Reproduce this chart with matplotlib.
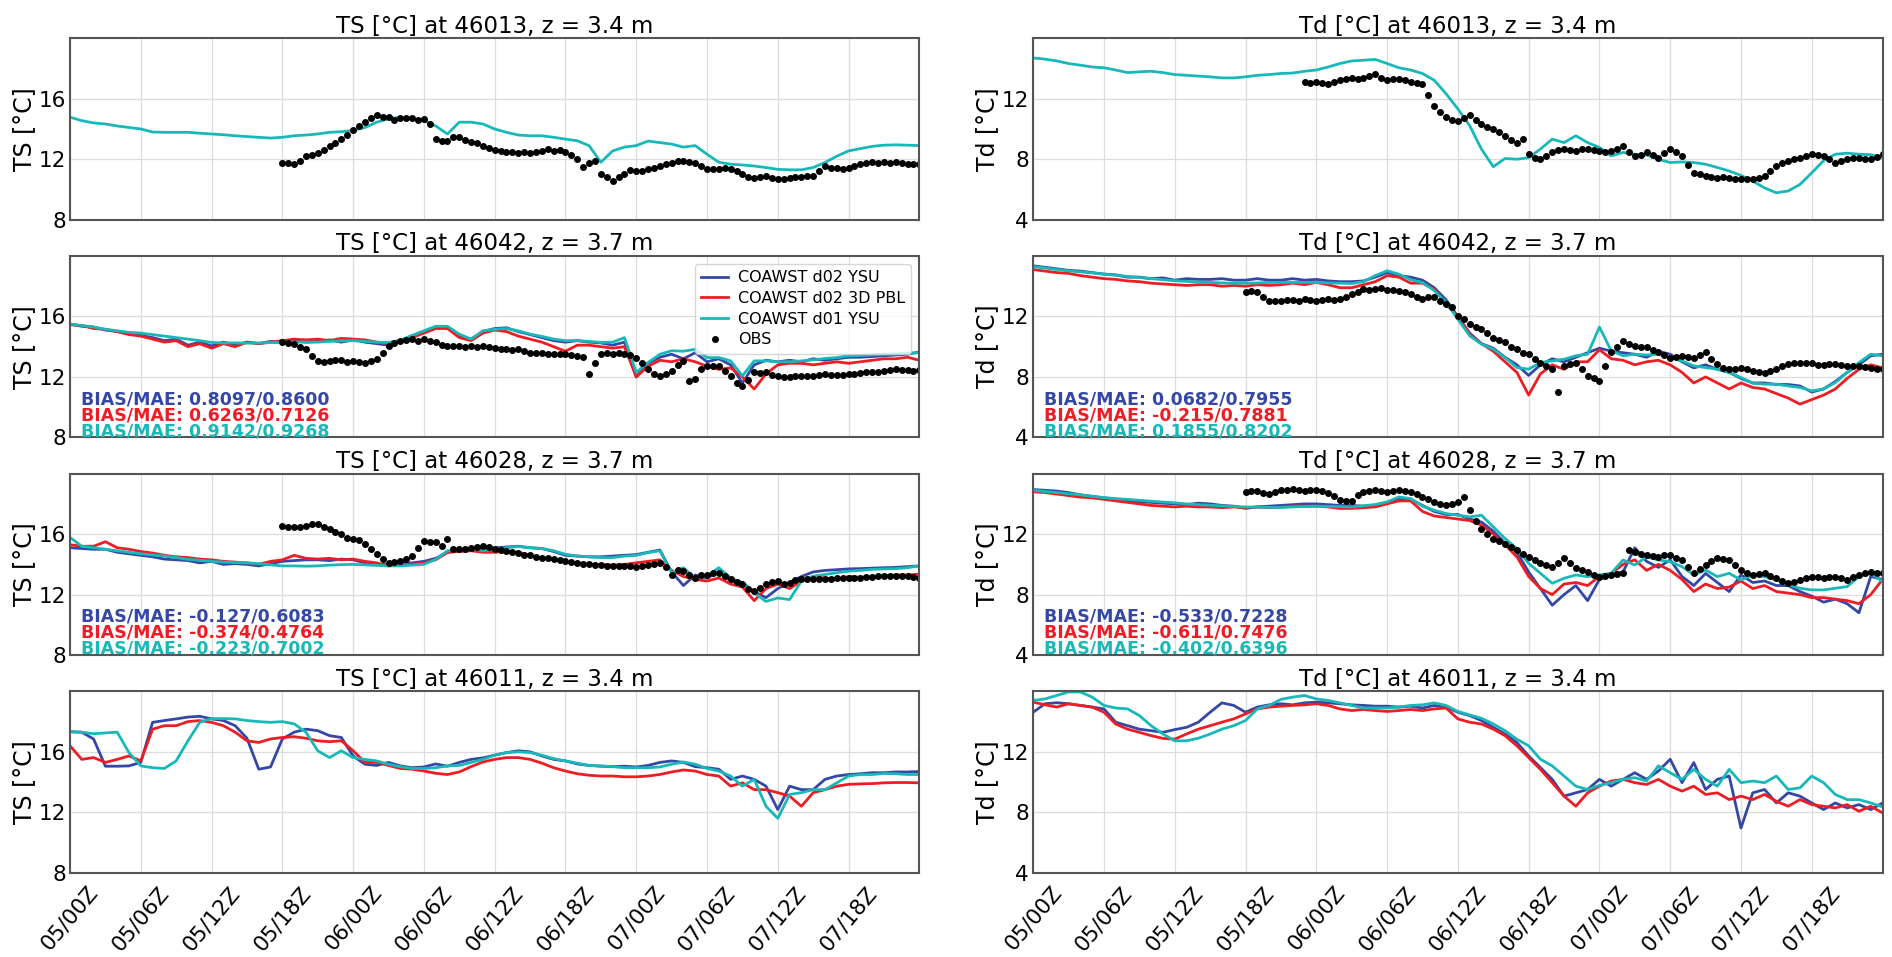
import numpy as np
import pandas as pd
import matplotlib
matplotlib.use('Agg')
import matplotlib.pyplot as plt
import matplotlib.dates as mdates

# start of the run (05/00Z)
t0 = pd.Timestamp('2021-01-05 00:00')

# ---- model output, hourly from 05/00Z ----
# TS 46013 (only d01 covers this buoy)
ts_46013_d01 = [14.78, 14.55, 14.40, 14.33, 14.20, 14.10, 14.00, 13.80, 13.78, 13.78, 13.78, 13.72,
                13.67, 13.62, 13.55, 13.50, 13.45, 13.40, 13.45, 13.55, 13.60, 13.67, 13.78, 13.82,
                13.90, 14.10, 14.45, 14.67, 14.78, 14.67, 14.55, 14.20, 13.67, 14.45, 14.45, 14.33,
                14.00, 13.78, 13.60, 13.55, 13.55, 13.45, 13.33, 13.22, 12.90, 11.80, 12.55, 12.80,
                12.90, 13.20, 13.10, 13.00, 12.80, 12.90, 12.33, 11.80, 11.67, 11.62, 11.55, 11.45,
                11.33, 11.30, 11.30, 11.45, 11.78, 12.20, 12.55, 12.70, 12.85, 12.93, 12.95, 12.93,
                12.90]

# TS 46042
ts_46042_ysu = [15.50, 15.35, 15.30, 15.10, 15.00, 14.85, 14.75, 14.60, 14.40, 14.50, 14.10, 14.30,
                14.05, 14.30, 14.10, 14.30, 14.20, 14.35, 14.25, 14.40, 14.30, 14.35, 14.45, 14.30,
                14.45, 14.30, 14.20, 14.10, 14.40, 14.70, 15.00, 15.30, 15.30, 14.70, 14.50, 15.00,
                15.20, 15.25, 15.00, 14.80, 14.60, 14.40, 14.30, 14.40, 14.30, 14.25, 14.10, 14.30,
                12.00, 12.90, 13.30, 13.50, 13.20, 13.60, 13.00, 13.20, 12.80, 11.60, 12.80, 13.10,
                13.00, 13.10, 13.00, 13.20, 13.10, 13.20, 13.30, 13.30, 13.35, 13.40, 13.45, 13.50,
                13.65]
ts_46042_pbl = [15.45, 15.40, 15.20, 15.15, 15.00, 14.80, 14.70, 14.50, 14.30, 14.40, 14.00, 14.20,
                13.90, 14.20, 14.00, 14.30, 14.20, 14.30, 14.40, 14.50, 14.45, 14.50, 14.40, 14.55,
                14.50, 14.45, 14.30, 14.20, 14.30, 14.60, 14.90, 15.20, 15.20, 14.60, 14.40, 14.90,
                15.10, 15.00, 14.70, 14.50, 14.30, 14.00, 13.70, 14.10, 14.10, 14.00, 13.90, 14.00,
                12.00, 12.70, 13.10, 13.00, 13.20, 13.00, 12.70, 12.50, 12.60, 12.00, 11.20, 12.20,
                12.80, 12.90, 12.90, 12.80, 12.90, 13.00, 12.90, 13.00, 13.10, 13.20, 13.20, 13.30,
                13.10]
ts_46042_d01 = [15.50, 15.40, 15.30, 15.15, 15.05, 14.95, 14.90, 14.80, 14.70, 14.60, 14.50, 14.40,
                14.28, 14.25, 14.25, 14.23, 14.25, 14.27, 14.28, 14.30, 14.30, 14.30, 14.35, 14.38,
                14.40, 14.35, 14.30, 14.28, 14.43, 14.75, 15.05, 15.35, 15.35, 14.83, 14.50, 15.05,
                15.15, 15.20, 15.05, 14.83, 14.68, 14.50, 14.40, 14.40, 14.35, 14.28, 14.30, 14.60,
                12.30, 12.95, 13.50, 13.73, 13.70, 13.83, 13.28, 13.28, 13.06, 12.07, 13.06, 13.06,
                13.00, 13.00, 13.06, 13.13, 13.22, 13.28, 13.40, 13.42, 13.46, 13.50, 13.53, 13.57,
                13.60]

# TS 46028
ts_46028_ysu = [15.10, 15.05, 15.00, 15.00, 14.80, 14.70, 14.60, 14.50, 14.35, 14.30, 14.25, 14.10,
                14.20, 14.00, 14.05, 14.00, 13.90, 14.05, 14.20, 14.25, 14.30, 14.30, 14.25, 14.35,
                14.30, 14.10, 14.00, 14.00, 14.05, 14.10, 14.20, 14.40, 14.80, 14.90, 15.00, 15.05,
                15.10, 15.15, 15.20, 15.10, 15.05, 14.85, 14.60, 14.55, 14.50, 14.50, 14.55, 14.60,
                14.65, 14.80, 14.95, 13.50, 12.60, 13.30, 13.10, 13.50, 12.90, 12.80, 12.20, 11.80,
                12.40, 12.80, 13.20, 13.50, 13.60, 13.65, 13.70, 13.72, 13.75, 13.78, 13.80, 13.85,
                13.90]
ts_46028_pbl = [15.30, 15.20, 15.20, 15.50, 15.10, 15.00, 14.85, 14.75, 14.60, 14.50, 14.45, 14.35,
                14.30, 14.20, 14.15, 14.10, 14.00, 14.20, 14.30, 14.60, 14.40, 14.35, 14.40, 14.30,
                14.35, 14.20, 14.10, 13.90, 14.00, 14.00, 14.10, 14.30, 14.80, 14.85, 14.90, 14.80,
                14.80, 14.85, 14.80, 14.60, 14.40, 14.30, 14.20, 14.10, 14.00, 14.00, 13.95, 14.00,
                14.10, 14.20, 14.30, 13.60, 13.20, 13.00, 12.90, 13.10, 12.70, 12.50, 11.60, 12.40,
                12.70, 12.40, 12.90, 13.20, 13.10, 13.00, 13.20, 13.15, 13.20, 13.25, 13.30, 13.30,
                13.35]
ts_46028_d01 = [15.78, 15.20, 15.10, 15.00, 14.90, 14.80, 14.70, 14.62, 14.55, 14.45, 14.33, 14.27,
                14.20, 14.15, 14.12, 14.10, 14.05, 13.97, 13.90, 13.90, 13.88, 13.90, 13.95, 13.98,
                14.00, 13.97, 13.93, 13.90, 13.90, 13.95, 14.00, 14.33, 14.90, 15.00, 15.05, 14.90,
                15.00, 15.10, 15.18, 15.10, 15.05, 14.90, 14.67, 14.55, 14.50, 14.45, 14.45, 14.55,
                14.60, 14.78, 14.90, 13.45, 13.78, 13.10, 13.22, 13.78, 13.10, 12.78, 12.10, 11.55,
                11.78, 11.67, 12.90, 13.22, 13.33, 13.45, 13.55, 13.60, 13.67, 13.70, 13.72, 13.78,
                13.90]

# TS 46011
ts_46011_ysu = [17.33, 17.30, 16.85, 15.05, 15.05, 15.07, 15.30, 17.95, 18.07, 18.18, 18.30, 18.35,
                18.18, 18.07, 17.73, 16.90, 14.85, 15.00, 16.85, 17.30, 17.50, 17.40, 17.07, 16.95,
                15.73, 15.18, 15.10, 15.30, 15.07, 14.95, 15.00, 15.20, 15.05, 15.30, 15.50, 15.60,
                15.78, 15.95, 16.07, 16.00, 15.73, 15.50, 15.40, 15.20, 15.10, 15.05, 15.02, 15.05,
                15.00, 15.10, 15.30, 15.40, 15.30, 15.02, 14.95, 14.85, 14.18, 14.40, 14.18, 13.73,
                12.18, 13.73, 13.50, 13.50, 14.18, 14.40, 14.50, 14.55, 14.62, 14.62, 14.67, 14.67,
                14.70]
ts_46011_pbl = [16.40, 15.50, 15.62, 15.30, 15.50, 15.73, 15.40, 17.50, 17.73, 17.73, 18.00, 18.07,
                17.95, 17.73, 17.30, 16.73, 16.62, 16.85, 16.95, 17.00, 16.90, 16.73, 16.67, 16.73,
                16.07, 15.30, 15.30, 15.10, 14.90, 14.85, 14.73, 14.58, 14.50, 14.67, 15.02, 15.33,
                15.50, 15.62, 15.62, 15.50, 15.25, 14.95, 14.73, 14.55, 14.45, 14.40, 14.40, 14.35,
                14.35, 14.40, 14.50, 14.67, 14.80, 14.73, 14.50, 14.40, 13.73, 13.95, 13.50, 13.50,
                13.30, 13.07, 12.40, 13.30, 13.50, 13.73, 13.85, 13.88, 13.90, 13.95, 13.97, 13.97,
                13.95]
ts_46011_d01 = [17.33, 17.30, 17.20, 17.25, 17.30, 15.95, 15.07, 14.95, 14.90, 15.40, 16.73, 17.95,
                18.20, 18.20, 18.18, 18.07, 18.00, 17.95, 18.00, 17.85, 17.30, 16.07, 15.62, 16.07,
                15.62, 15.50, 15.40, 15.18, 15.02, 14.90, 14.90, 14.95, 15.07, 15.10, 15.30, 15.50,
                15.78, 15.95, 16.00, 15.95, 15.78, 15.55, 15.40, 15.25, 15.10, 15.07, 15.02, 14.95,
                14.95, 14.95, 15.00, 15.18, 15.33, 15.18, 14.90, 14.73, 14.40, 13.73, 14.18, 12.40,
                11.60, 13.18, 13.30, 13.50, 13.50, 13.95, 14.40, 14.50, 14.50, 14.57, 14.55, 14.50,
                14.50]

# Td 46013
td_46013_d01 = [14.70, 14.62, 14.50, 14.33, 14.22, 14.10, 14.05, 13.90, 13.73, 13.78, 13.82, 13.73,
                13.60, 13.55, 13.50, 13.45, 13.38, 13.38, 13.45, 13.55, 13.60, 13.67, 13.70, 13.82,
                13.90, 14.10, 14.33, 14.50, 14.55, 14.60, 14.33, 14.05, 13.90, 13.67, 13.22, 12.33,
                11.33, 10.22, 8.67, 7.50, 8.05, 8.00, 8.10, 8.67, 9.33, 9.10, 9.55, 9.10,
                8.78, 8.22, 8.45, 8.33, 8.27, 8.00, 7.78, 7.82, 7.78, 7.67, 7.45, 7.22,
                6.93, 6.55, 6.10, 5.78, 5.90, 6.33, 7.10, 7.90, 8.33, 8.40, 8.33, 8.30,
                8.10]

# Td 46042
td_46042_ysu = [15.35, 15.25, 15.15, 15.05, 15.00, 14.90, 14.80, 14.75, 14.60, 14.60, 14.50, 14.55,
                14.40, 14.50, 14.45, 14.45, 14.50, 14.40, 14.40, 14.50, 14.40, 14.40, 14.50, 14.40,
                14.45, 14.35, 14.30, 14.30, 14.35, 14.60, 14.90, 14.70, 14.60, 14.40, 13.90, 13.10,
                12.00, 10.90, 10.20, 9.90, 9.30, 8.80, 8.10, 8.80, 9.20, 9.00, 9.30, 9.60,
                9.90, 9.70, 9.60, 9.50, 9.30, 9.70, 9.50, 9.00, 8.60, 8.80, 8.50, 8.30,
                7.90, 7.60, 7.60, 7.50, 7.50, 7.40, 7.00, 7.20, 7.70, 8.30, 8.80, 9.40,
                9.50]
td_46042_pbl = [15.10, 15.00, 14.90, 14.85, 14.70, 14.60, 14.50, 14.45, 14.35, 14.30, 14.20, 14.15,
                14.10, 14.05, 14.10, 14.10, 14.00, 14.05, 14.00, 14.10, 14.05, 14.10, 14.20, 14.10,
                14.25, 14.10, 13.90, 13.90, 14.10, 14.30, 14.70, 14.60, 14.20, 14.20, 13.80, 12.80,
                12.00, 10.80, 10.20, 9.70, 9.00, 8.30, 6.80, 8.20, 8.80, 8.50, 9.00, 9.00,
                9.80, 9.20, 9.10, 8.80, 9.00, 9.10, 8.80, 8.30, 7.60, 8.00, 7.60, 7.20,
                7.60, 7.30, 7.20, 6.90, 6.60, 6.20, 6.50, 6.80, 7.20, 7.90, 8.50, 8.80,
                8.60]
td_46042_d01 = [15.30, 15.20, 15.10, 15.02, 14.95, 14.88, 14.80, 14.72, 14.65, 14.58, 14.50, 14.43,
                14.36, 14.32, 14.28, 14.25, 14.22, 14.20, 14.20, 14.22, 14.25, 14.25, 14.25, 14.25,
                14.25, 14.22, 14.20, 14.18, 14.30, 14.70, 15.02, 14.80, 14.43, 14.25, 13.70, 12.93,
                11.82, 10.72, 10.17, 9.84, 9.28, 8.62, 8.51, 8.95, 9.06, 9.17, 9.40, 9.50,
                11.30, 9.73, 9.40, 9.50, 9.45, 9.50, 9.28, 9.06, 8.73, 8.62, 8.51, 8.29,
                7.96, 7.58, 7.52, 7.52, 7.40, 7.30, 7.08, 7.20, 7.63, 8.29, 8.95, 9.50,
                9.40]

# Td 46028
td_46028_ysu = [14.95, 14.90, 14.85, 14.75, 14.60, 14.50, 14.40, 14.30, 14.20, 14.15, 14.10, 14.05,
                14.00, 13.95, 14.05, 14.00, 13.90, 13.85, 13.70, 13.80, 13.85, 13.90, 13.95, 14.00,
                14.00, 13.95, 13.90, 13.90, 13.85, 13.90, 14.10, 14.30, 14.30, 13.90, 13.50, 13.30,
                13.30, 13.00, 12.80, 12.20, 11.40, 10.80, 9.50, 8.40, 7.30, 8.00, 8.60, 7.60,
                9.00, 9.30, 9.50, 11.10, 10.20, 9.80, 10.30, 9.20, 8.60, 9.40, 8.80, 8.20,
                9.30, 8.80, 8.90, 8.60, 8.60, 8.20, 7.90, 7.50, 7.70, 7.40, 6.80, 9.20,
                9.00]
td_46028_pbl = [14.80, 14.75, 14.65, 14.55, 14.45, 14.40, 14.30, 14.20, 14.10, 14.00, 13.90, 13.85,
                13.80, 13.85, 13.80, 13.80, 13.75, 13.80, 13.75, 13.80, 13.75, 13.80, 13.85, 13.85,
                13.85, 13.80, 13.70, 13.70, 13.75, 13.80, 14.00, 14.20, 14.20, 13.50, 13.20, 13.10,
                13.00, 12.90, 12.60, 12.00, 11.30, 10.50, 9.20, 8.40, 8.00, 8.70, 8.80, 8.60,
                9.20, 9.40, 10.00, 10.30, 9.60, 10.00, 9.60, 9.00, 8.20, 8.70, 8.40, 8.50,
                8.90, 8.40, 8.60, 8.20, 8.10, 8.00, 7.80, 7.80, 7.70, 7.60, 7.40, 8.00,
                9.00]
td_46028_d01 = [14.90, 14.82, 14.75, 14.68, 14.60, 14.50, 14.42, 14.35, 14.30, 14.24, 14.18, 14.12,
                14.07, 14.00, 13.95, 13.91, 13.87, 13.83, 13.80, 13.78, 13.77, 13.76, 13.80, 13.83,
                13.85, 13.83, 13.82, 13.80, 13.88, 13.96, 14.13, 14.46, 14.35, 13.85, 13.58, 13.36,
                13.25, 13.14, 13.25, 12.48, 11.71, 11.05, 10.07, 9.41, 8.75, 9.08, 9.30, 9.19,
                9.30, 9.41, 10.29, 9.96, 10.50, 10.29, 10.18, 9.85, 9.30, 9.63, 9.19, 9.41,
                8.97, 9.30, 9.19, 8.97, 8.64, 8.42, 8.31, 8.31, 8.42, 8.53, 9.19, 9.41,
                8.86]

# Td 46011
td_46011_ysu = [14.62, 15.18, 15.25, 15.18, 15.07, 14.96, 14.84, 13.96, 13.73, 13.50, 13.40, 13.29,
                13.47, 13.62, 13.96, 14.62, 15.24, 15.07, 14.62, 14.96, 15.11, 15.18, 15.11, 15.24,
                15.29, 15.24, 15.18, 15.11, 15.07, 15.02, 15.02, 14.96, 15.02, 14.90, 15.07, 14.96,
                14.62, 14.40, 14.07, 13.62, 13.18, 12.62, 11.73, 10.96, 10.18, 9.07, 9.29, 9.51,
                10.18, 9.73, 10.18, 10.62, 10.18, 10.73, 11.51, 9.96, 11.29, 9.51, 10.18, 10.40,
                6.96, 9.29, 9.51, 8.62, 9.29, 9.07, 8.62, 8.18, 8.62, 8.29, 8.51, 8.18,
                8.62]
td_46011_pbl = [15.29, 15.11, 14.96, 15.18, 15.07, 14.96, 14.62, 13.84, 13.50, 13.29, 13.07, 12.89,
                12.84, 13.18, 13.50, 13.73, 13.96, 14.18, 14.51, 14.84, 14.96, 15.02, 15.07, 15.11,
                15.18, 15.07, 14.84, 14.73, 14.80, 14.73, 14.67, 14.73, 14.80, 14.73, 14.84, 14.90,
                14.18, 13.96, 13.84, 13.50, 13.07, 12.40, 11.62, 10.84, 9.96, 9.07, 8.40, 9.29,
                9.73, 10.07, 10.18, 9.96, 9.84, 10.18, 9.73, 9.40, 9.73, 9.18, 9.29, 8.84,
                9.07, 8.84, 9.18, 8.73, 8.40, 8.84, 8.51, 8.40, 8.29, 8.51, 8.07, 8.40,
                7.96]
td_46011_d01 = [15.40, 15.50, 15.73, 15.96, 15.96, 15.62, 15.07, 14.90, 14.84, 14.40, 13.73, 13.18,
                12.73, 12.73, 12.90, 13.18, 13.50, 13.73, 14.07, 14.84, 15.07, 15.47, 15.62, 15.73,
                15.50, 15.40, 15.24, 15.07, 14.90, 14.90, 14.90, 14.96, 15.07, 15.11, 15.24, 15.07,
                14.67, 14.44, 14.22, 13.84, 13.40, 12.84, 12.40, 11.51, 11.07, 10.40, 9.73, 9.51,
                9.78, 9.96, 10.18, 10.29, 10.07, 11.07, 10.62, 10.18, 10.84, 10.18, 9.73, 10.84,
                9.96, 10.07, 9.96, 10.40, 9.51, 9.62, 10.40, 9.96, 9.18, 8.84, 8.84, 8.62,
                8.36]

# ---- buoy observations, every 30 min (start hour after 05/00Z) ----
obs_ts_46013_start = 18
obs_ts_46013 = [11.75, 11.72, 11.67, 11.90, 12.20, 12.30, 12.40, 12.60, 12.90, 13.10, 13.33, 13.60,
                13.90, 14.20, 14.45, 14.75, 14.90, 14.80, 14.78, 14.60, 14.70, 14.75, 14.70, 14.60,
                14.67, 14.30, 13.33, 13.20, 13.22, 13.45, 13.50, 13.30, 13.15, 13.05, 12.90, 12.75,
                12.60, 12.55, 12.50, 12.45, 12.40, 12.45, 12.42, 12.50, 12.55, 12.70, 12.55, 12.60,
                12.45, 12.30, 12.00, 11.50, 11.78, 11.90, 11.00, 10.80, 10.55, 10.80, 11.00, 11.30,
                11.20, 11.25, 11.33, 11.45, 11.55, 11.70, 11.78, 11.85, 11.90, 11.80, 11.73, 11.55,
                11.38, 11.35, 11.33, 11.40, 11.35, 11.20, 11.00, 10.85, 10.78, 10.85, 10.90, 10.75,
                10.67, 10.72, 10.78, 10.85, 10.85, 10.90, 10.90, 11.20, 11.55, 11.40, 11.45, 11.35,
                11.45, 11.55, 11.67, 11.75, 11.82, 11.78, 11.80, 11.75, 11.80, 11.72, 11.67, 11.70,
                11.67]
obs_ts_46042_start = 18
obs_ts_46042 = [14.28, 14.25, 14.17, 14.00, 13.83, 13.40, 13.06, 13.00, 13.06, 13.10, 13.10, 13.00,
                13.06, 13.00, 12.95, 13.05, 13.17, 13.60, 14.05, 14.25, 14.40, 14.45, 14.50, 14.40,
                14.50, 14.35, 14.28, 14.10, 14.05, 14.05, 14.05, 14.00, 14.05, 14.00, 14.05, 13.95,
                13.90, 13.85, 13.83, 13.80, 13.83, 13.70, 13.60, 13.55, 13.55, 13.50, 13.50, 13.50,
                13.50, 13.45, 13.40, 13.30, 12.20, 12.90, 13.50, 13.55, 13.50, 13.55, 13.50, 13.45,
                13.28, 12.90, 12.50, 12.20, 12.07, 12.20, 12.40, 12.80, 13.06, 11.70, 11.85, 12.50,
                12.73, 12.75, 12.73, 12.40, 12.07, 11.60, 11.40, 11.80, 12.30, 12.25, 12.30, 12.15,
                12.07, 12.00, 12.00, 12.05, 12.07, 12.05, 12.07, 12.10, 12.18, 12.15, 12.12, 12.15,
                12.18, 12.20, 12.25, 12.30, 12.33, 12.35, 12.40, 12.45, 12.50, 12.45, 12.45, 12.42,
                12.45]
obs_ts_46028_start = 18
obs_ts_46028 = [16.55, 16.50, 16.45, 16.50, 16.55, 16.65, 16.67, 16.50, 16.33, 16.15, 16.00, 15.75,
                15.70, 15.60, 15.33, 15.00, 14.67, 14.35, 14.10, 14.15, 14.22, 14.35, 14.55, 15.10,
                15.55, 15.50, 15.45, 15.20, 15.67, 15.00, 15.00, 15.05, 15.10, 15.15, 15.22, 15.15,
                15.05, 14.95, 14.90, 14.80, 14.73, 14.65, 14.60, 14.50, 14.45, 14.40, 14.33, 14.28,
                14.22, 14.15, 14.10, 14.05, 14.00, 13.95, 13.93, 13.90, 13.90, 13.88, 13.90, 13.88,
                13.85, 13.90, 13.93, 14.00, 14.10, 13.80, 13.33, 13.60, 13.55, 13.30, 13.10, 13.30,
                13.33, 13.40, 13.45, 13.20, 13.00, 12.85, 12.67, 12.40, 12.22, 12.45, 12.67, 12.85,
                12.90, 12.70, 12.78, 12.95, 13.00, 13.00, 13.00, 13.05, 13.05, 13.05, 13.08, 13.10,
                13.10, 13.12, 13.10, 13.15, 13.17, 13.20, 13.22, 13.22, 13.22, 13.20, 13.20, 13.15,
                13.10]
obs_td_46013_start = 23
obs_td_46013 = [13.10, 13.05, 13.10, 13.05, 13.00, 13.10, 13.22, 13.30, 13.38, 13.30, 13.38, 13.50,
                13.67, 13.40, 13.22, 13.30, 13.33, 13.25, 13.10, 13.05, 13.00, 12.22, 11.55, 11.10,
                10.78, 10.60, 10.55, 10.70, 10.90, 10.60, 10.33, 10.15, 10.00, 9.80, 9.55, 9.30,
                9.10, 9.33, 8.33, 8.10, 8.00, 8.20, 8.45, 8.60, 8.67, 8.60, 8.55, 8.65,
                8.67, 8.60, 8.55, 8.50, 8.55, 8.70, 8.90, 8.50, 8.22, 8.30, 8.45, 8.30,
                8.10, 8.40, 8.67, 8.50, 8.22, 7.60, 7.10, 7.00, 6.90, 6.85, 6.78, 6.80,
                6.78, 6.70, 6.67, 6.70, 6.67, 6.75, 6.90, 7.20, 7.55, 7.75, 7.90, 8.00,
                8.10, 8.20, 8.33, 8.30, 8.22, 8.00, 7.78, 7.90, 8.00, 8.05, 8.05, 8.00,
                8.00, 8.15, 8.33]
obs_td_46042_start = 18
obs_td_46042 = [13.65, 13.70, 13.60, 13.30, 13.04, 13.00, 13.04, 13.10, 13.08, 13.05, 13.15, 13.10,
                13.04, 13.10, 13.15, 13.10, 13.15, 13.30, 13.50, 13.65, 13.80, 13.75, 13.80, 13.85,
                13.77, 13.75, 13.70, 13.60, 13.48, 13.30, 13.15, 13.30, 13.26, 13.05, 12.82, 12.60,
                12.04, 11.80, 11.50, 11.30, 11.16, 10.90, 10.60, 10.45, 10.28, 10.00, 9.84, 9.60,
                9.50, 9.20, 8.95, 8.70, 8.50, 7.00, 8.73, 8.85, 8.95, 8.50, 8.07, 7.90,
                7.74, 8.73, 9.62, 10.00, 10.39, 10.20, 10.06, 10.00, 9.95, 9.80, 9.62, 9.45,
                9.28, 9.35, 9.40, 9.35, 9.28, 9.45, 9.62, 9.20, 8.84, 8.60, 8.51, 8.55,
                8.62, 8.50, 8.40, 8.35, 8.29, 8.40, 8.51, 8.70, 8.84, 8.90, 8.95, 8.90,
                8.90, 8.80, 8.78, 8.85, 8.84, 8.80, 8.73, 8.70, 8.70, 8.65, 8.62, 8.55,
                8.51]
obs_td_46028_start = 18
obs_td_46028 = [14.80, 14.85, 14.86, 14.75, 14.68, 14.80, 14.90, 14.95, 15.00, 14.90, 14.86, 14.90,
                14.90, 14.85, 14.73, 14.50, 14.24, 14.20, 14.20, 14.57, 14.80, 14.85, 14.90, 14.85,
                14.80, 14.85, 14.90, 14.85, 14.80, 14.65, 14.46, 14.30, 14.13, 14.00, 13.91, 14.00,
                14.13, 14.46, 13.58, 12.90, 12.37, 12.00, 11.71, 11.55, 11.38, 11.15, 10.95, 10.70,
                10.51, 10.30, 10.07, 9.95, 9.85, 10.10, 10.40, 10.10, 9.74, 9.60, 9.52, 9.30,
                9.19, 9.25, 9.30, 9.35, 9.41, 10.95, 10.84, 10.70, 10.62, 10.55, 10.51, 10.60,
                10.62, 10.45, 10.29, 9.80, 9.41, 9.70, 9.96, 10.20, 10.40, 10.35, 10.29, 9.95,
                9.63, 9.45, 9.30, 9.35, 9.41, 9.25, 9.08, 8.90, 8.75, 8.85, 8.97, 9.10,
                9.19, 9.15, 9.08, 9.15, 9.19, 9.10, 8.97, 9.15, 9.30, 9.40, 9.52, 9.45,
                9.41]

# error statistics printed in the panels (d02 YSU, d02 3D PBL, d01 YSU)
stats_ts_46042 = ['0.8097/0.8600', '0.6263/0.7126', '0.9142/0.9268']
stats_ts_46028 = ['-0.127/0.6083', '-0.374/0.4764', '-0.223/0.7002']
stats_td_46042 = ['0.0682/0.7955', '-0.215/0.7881', '0.1855/0.8202']
stats_td_46028 = ['-0.533/0.7228', '-0.611/0.7476', '-0.402/0.6396']

labels = ['COAWST d02 YSU', 'COAWST d02 3D PBL', 'COAWST d01 YSU']
colors = ['#3447a7', '#ee1d24', '#18b8b8']


def hourly(vals):
    return t0 + pd.to_timedelta(np.arange(len(vals)), unit='h')


def halfhourly(vals, start):
    return t0 + pd.to_timedelta(start + 0.5 * np.arange(len(vals)), unit='h')


def panel(ax, title, ylabel, ylim, yticks, models, obs=None, obs_start=None, stats=None):
    for vals, lab, col in zip(models, labels, colors):
        if vals is None:
            continue
        ax.plot(hourly(vals), vals, color=col, lw=2.0, label=lab)
    if obs is not None:
        ax.plot(halfhourly(obs, obs_start), obs, '.', color='k', ms=8, label='OBS')
    if stats is not None:
        for i, (s, col) in enumerate(zip(stats, colors)):
            ax.text(0.013, 0.21 - 0.088 * i, 'BIAS/MAE: ' + s, color=col, fontsize=12.5,
                    fontweight='bold', transform=ax.transAxes, va='center', ha='left')
    ax.set_title(title, fontsize=16.5, pad=4)
    ax.set_ylabel(ylabel, fontsize=17, labelpad=2)
    ax.set_ylim(ylim)
    ax.set_yticks(yticks)
    ax.set_xlim(t0, t0 + pd.Timedelta(hours=72))
    ax.set_xticks(pd.date_range(t0, periods=12, freq='6h'))
    ax.xaxis.set_major_formatter(mdates.DateFormatter('%d/%HZ'))
    ax.grid(True, color='#dcdcdc', lw=0.9)
    ax.set_axisbelow(True)
    ax.tick_params(axis='both', length=0, labelsize=15.5)
    ax.tick_params(axis='x', pad=7)
    ax.tick_params(axis='y', pad=3)
    for sp in ax.spines.values():
        sp.set_color('#555555')
        sp.set_linewidth(1.5)


fig, axs = plt.subplots(4, 2, figsize=(18.92, 9.57), dpi=100, sharex=True)
fig.subplots_adjust(left=0.037, right=0.995, top=0.96, bottom=0.088, wspace=0.134, hspace=0.2)

ts_lim, ts_ticks = (8, 20), [8, 12, 16]
td_lim, td_ticks = (4, 16), [4, 8, 12]

panel(axs[0, 0], 'TS [°C] at 46013, z = 3.4 m', 'TS [°C]', ts_lim, ts_ticks,
      [None, None, ts_46013_d01], obs_ts_46013, obs_ts_46013_start)
panel(axs[1, 0], 'TS [°C] at 46042, z = 3.7 m', 'TS [°C]', ts_lim, ts_ticks,
      [ts_46042_ysu, ts_46042_pbl, ts_46042_d01], obs_ts_46042, obs_ts_46042_start, stats_ts_46042)
panel(axs[2, 0], 'TS [°C] at 46028, z = 3.7 m', 'TS [°C]', ts_lim, ts_ticks,
      [ts_46028_ysu, ts_46028_pbl, ts_46028_d01], obs_ts_46028, obs_ts_46028_start, stats_ts_46028)
panel(axs[3, 0], 'TS [°C] at 46011, z = 3.4 m', 'TS [°C]', ts_lim, ts_ticks,
      [ts_46011_ysu, ts_46011_pbl, ts_46011_d01])

panel(axs[0, 1], 'Td [°C] at 46013, z = 3.4 m', 'Td [°C]', td_lim, td_ticks,
      [None, None, td_46013_d01], obs_td_46013, obs_td_46013_start)
panel(axs[1, 1], 'Td [°C] at 46042, z = 3.7 m', 'Td [°C]', td_lim, td_ticks,
      [td_46042_ysu, td_46042_pbl, td_46042_d01], obs_td_46042, obs_td_46042_start, stats_td_46042)
panel(axs[2, 1], 'Td [°C] at 46028, z = 3.7 m', 'Td [°C]', td_lim, td_ticks,
      [td_46028_ysu, td_46028_pbl, td_46028_d01], obs_td_46028, obs_td_46028_start, stats_td_46028)
panel(axs[3, 1], 'Td [°C] at 46011, z = 3.4 m', 'Td [°C]', td_lim, td_ticks,
      [td_46011_ysu, td_46011_pbl, td_46011_d01])

axs[1, 0].legend(loc='upper right', fontsize=11.5, labelspacing=0.35,
                 handlelength=1.7, handletextpad=0.6)

for ax in axs[3]:
    plt.setp(ax.get_xticklabels(), rotation=50, ha='center')

fig.savefig('out.png', dpi=100)
